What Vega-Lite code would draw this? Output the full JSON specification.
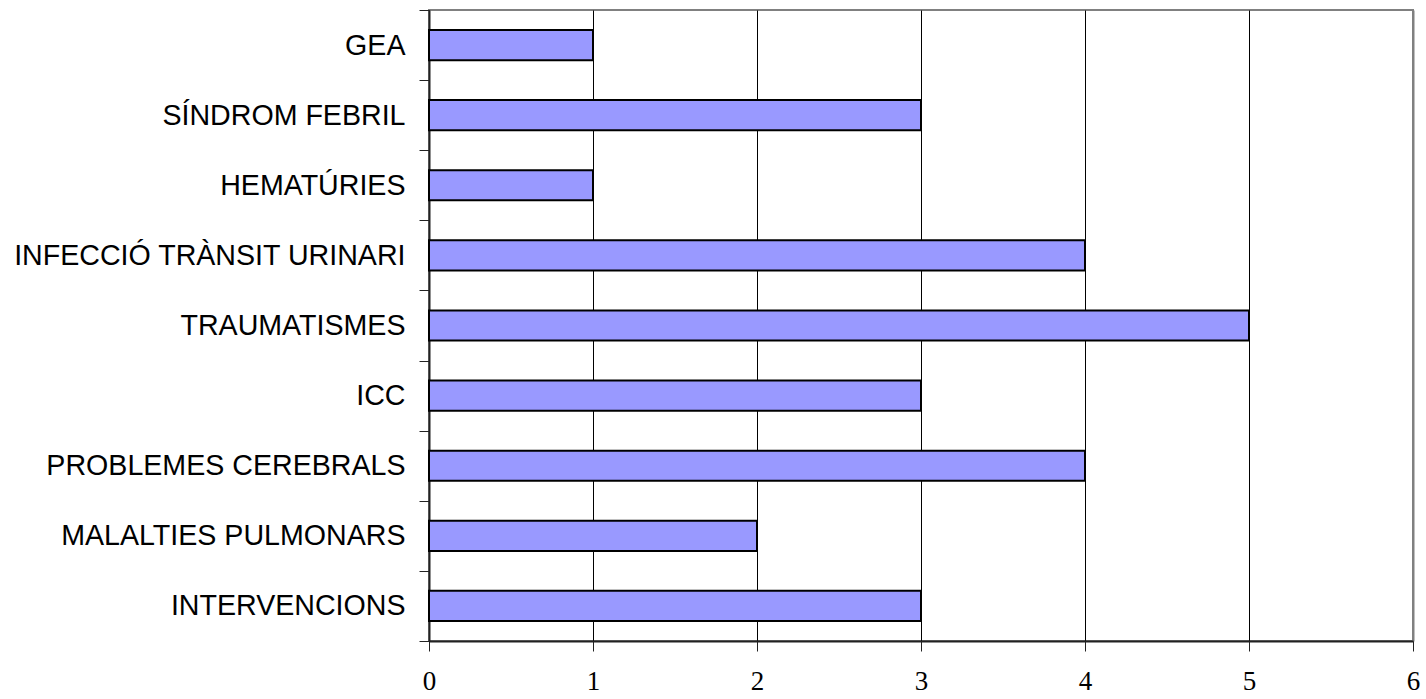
{
  "$schema": "https://vega.github.io/schema/vega-lite/v6.json",
  "width": 984,
  "height": 631,
  "autosize": {"type": "none"},
  "padding": {"left": 429, "top": 10, "right": 13, "bottom": 58},
  "background": "white",
  "view": {"stroke": "#808080", "strokeWidth": 2},
  "data": {
    "values": [
      {"categoria": "GEA", "valor": 1},
      {"categoria": "SÍNDROM FEBRIL", "valor": 3},
      {"categoria": "HEMATÚRIES", "valor": 1},
      {"categoria": "INFECCIÓ TRÀNSIT URINARI", "valor": 4},
      {"categoria": "TRAUMATISMES", "valor": 5},
      {"categoria": "ICC", "valor": 3},
      {"categoria": "PROBLEMES CEREBRALS", "valor": 4},
      {"categoria": "MALALTIES PULMONARS", "valor": 2},
      {"categoria": "INTERVENCIONS", "valor": 3}
    ]
  },
  "mark": {"type": "bar", "fill": "#9999FF", "stroke": "#000000", "strokeWidth": 2, "height": {"band": 0.43}},
  "encoding": {
    "y": {
      "field": "categoria",
      "type": "nominal",
      "sort": null,
      "title": null,
      "scale": {"paddingInner": 0, "paddingOuter": 0},
      "axis": {
        "tickBand": "extent",
        "tickSize": 10,
        "tickColor": "#222222",
        "tickWidth": 1,
        "domainColor": "#222222",
        "domainWidth": 2,
        "labelFont": "Liberation Sans",
        "labelFontSize": 28.6,
        "labelColor": "#000000",
        "labelPadding": 14,
        "labelLimit": 600,
        "grid": false
      }
    },
    "x": {
      "field": "valor",
      "type": "quantitative",
      "title": null,
      "scale": {"domain": [0, 6], "nice": false},
      "axis": {
        "values": [0, 1, 2, 3, 4, 5, 6],
        "format": "d",
        "tickSize": 10,
        "tickColor": "#222222",
        "tickWidth": 1,
        "domainColor": "#222222",
        "domainWidth": 2,
        "grid": true,
        "gridColor": {"condition": {"test": "datum.value === 6", "value": "#808080"}, "value": "#000000"},
        "gridWidth": {"condition": {"test": "datum.value === 6", "value": 2}, "value": 1},
        "gridOpacity": 1,
        "labelFont": "Liberation Serif",
        "labelFontSize": 27,
        "labelColor": "#000000",
        "labelPadding": 17,
        "labelFlush": false
      }
    }
  }
}
